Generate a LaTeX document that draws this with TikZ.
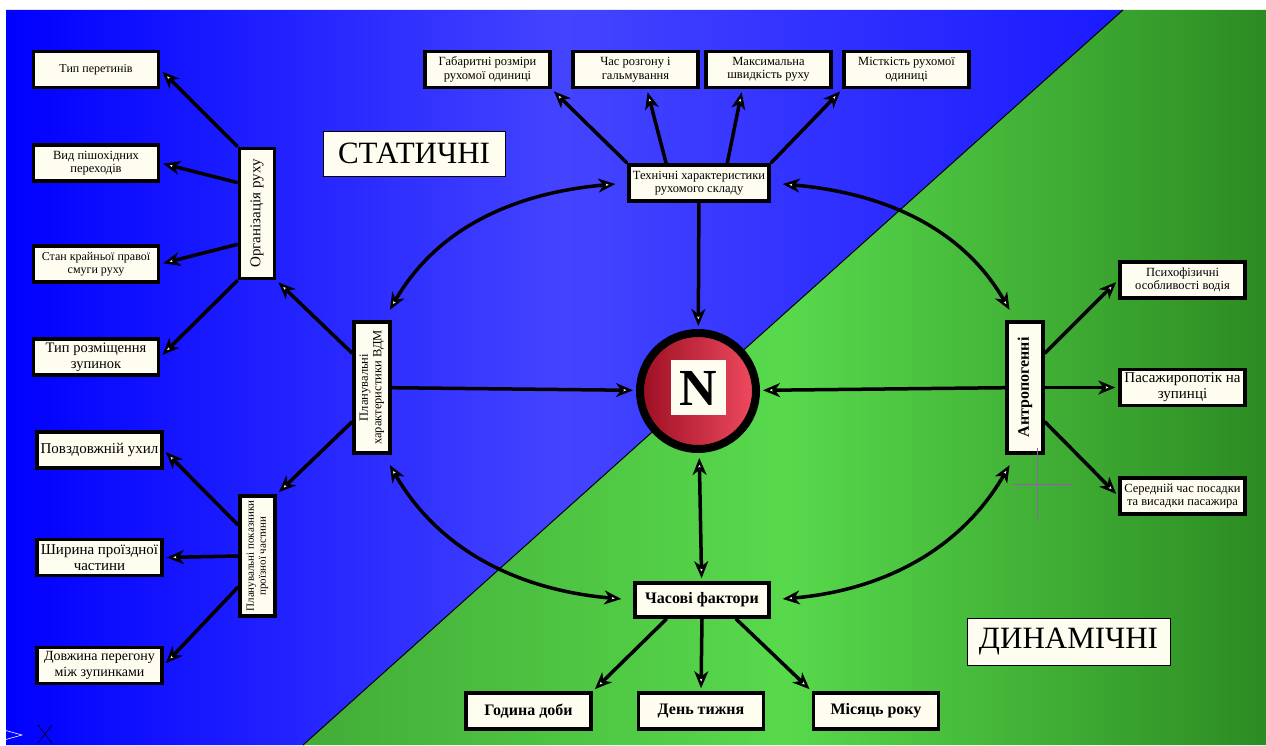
\documentclass[tikz,border=0pt]{standalone}
\usepackage{fontspec}
\setmainfont{Liberation Serif}
\usepackage{graphicx}
\usetikzlibrary{arrows.meta}
\definecolor{cream}{HTML}{FFFDF0}
\definecolor{blueL}{HTML}{0000FF}
\definecolor{blueM}{HTML}{4444FF}
\definecolor{blueR}{HTML}{1A1AFF}
\definecolor{greenL}{HTML}{42AC37}
\definecolor{greenM}{HTML}{58D94C}
\definecolor{greenR}{HTML}{2C8B22}
\definecolor{redL}{HTML}{9C0E22}
\definecolor{redR}{HTML}{F04B60}
\definecolor{cross}{HTML}{A050C0}

\begin{document}
\begin{tikzpicture}[x=1pt, y=1pt,
 >={Stealth[length=17pt, width=14pt, inset=5pt, fill=white, line width=2.4pt]},
 box/.style={draw, line width=3.5pt, fill=cream, align=center, inner sep=1pt,
   minimum width=125pt, minimum height=36pt, font=\fontsize{12.5}{13.5}\selectfont},
 midbox/.style={box, font=\fontsize{14.5}{16}\selectfont},
 fatbox/.style={box, font=\fontsize{16}{18}\selectfont\bfseries},
 vbox/.style={box, minimum width=35pt, minimum height=130pt},
 arr/.style={->, line width=3.5pt, shorten >=3pt},
 dbl/.style={<->, line width=3.5pt, shorten >=12pt, shorten <=12pt},
 sidetag/.style={draw, line width=0.8pt, fill=cream, inner sep=2pt, font=\fontsize{31}{31}\selectfont}]
 \fill[white] (0,0) rectangle (1266,745);
 \useasboundingbox (0,0) rectangle (1266,745);
 \shade[left color=blueL, right color=blueR, middle color=blueM] (6,0) -- (6,735) -- (1123,735) -- (303,0) -- cycle;
 \shade[left color=greenL, right color=greenR, middle color=greenM] (303,0) -- (1123,735) -- (1266,735) -- (1266,0) -- cycle;
 \draw[line width=1pt] (303,0) -- (1123,735);

 \node[box, font=\fontsize{12}{13}\selectfont] (typ) at (96,675.5) {Тип перетинів};
 \node[box] (vyd) at (96,582) {Вид пішохідних\\переходів};
 \node[box, font=\fontsize{12}{13}\selectfont] (stan) at (96,481) {Стан крайньої правої\\смуги руху};
 \node[midbox] (typroz) at (96,388) {Тип розміщення\\зупинок};
 \node[midbox, font=\fontsize{15}{16}\selectfont] (povzd) at (99.5,295) {Повздовжній ухил};
 \node[midbox, font=\fontsize{15}{16}\selectfont] (shyr) at (99.5,187.5) {Ширина проїздної\\частини};
 \node[midbox, font=\fontsize{14}{15.5}\selectfont] (dovzh) at (99.5,79.5) {Довжина перегону\\між зупинками};

 \node[box] (gab) at (487.5,675.5) {Габаритні розміри\\рухомої одиниці};
 \node[box] (rozg) at (635.5,675.5) {Час розгону і\\гальмування};
 \node[box] (maks) at (768.5,675.5) {Максимальна\\швидкість руху};
 \node[box] (mist) at (906.5,675.5) {Місткість рухомої\\одиниці};
 \node[box, minimum width=140pt] (tech) at (699,562) {Технічні характеристики\\рухомого складу};

 \node[vbox, font=\fontsize{15}{16}\selectfont] (org) at (257,531.5) {\rotatebox{90}{Організація руху}};
 \node[vbox, minimum width=36pt, minimum height=131pt] (vdm) at (372,357.5) {\rotatebox{90}{\begin{tabular}{@{}c@{}}Планувальні\\характеристики ВДМ\end{tabular}}};
 \node[vbox, minimum height=120pt, font=\fontsize{11}{12}\selectfont] (pok) at (257.5,189) {\rotatebox{90}{\begin{tabular}{@{}c@{}}Планувальні показники\\проїзної частини\end{tabular}}};
 \node[vbox, minimum width=36pt, minimum height=131pt, font=\fontsize{16}{18}\selectfont\bfseries] (antr) at (1025,357.5) {\rotatebox{90}{Антропогенні}};

 \node[box] (psy) at (1182.5,465) {Психофізичні\\особливості водія};
 \node[midbox, font=\fontsize{15}{16}\selectfont] (pas) at (1182.5,357.5) {Пасажиропотік на\\зупинці};
 \node[box] (ser) at (1182.5,249) {Середній час посадки\\та висадки пасажира};

 \node[fatbox, minimum width=134pt, minimum height=34pt] (time) at (702,145) {Часові фактори};
 \node[fatbox] (hod) at (528.5,34) {Година доби};
 \node[fatbox] (den) at (701,34) {День тижня};
 \node[fatbox] (mis) at (876,34) {Місяць року};

 \node[circle, draw, line width=8pt, left color=redL, right color=redR, minimum size=116pt] (N) at (698,354) {};
 \node[fill=cream, minimum size=55pt, inner sep=0pt, font=\fontsize{52}{52}\selectfont\bfseries] (Nlbl) at (698,357) {N};

 \node[sidetag, minimum width=182pt, minimum height=45pt] (stat) at (414,591.5) {СТАТИЧНІ};
 \node[sidetag, minimum width=203pt, minimum height=47pt] (dyn) at (1068.5,103.5) {ДИНАМІЧНІ};

 \draw[arr] (org.north west) -- (typ.east);
 \draw[arr] (org.122) -- (vyd.east);
 \draw[arr] (org.238) -- (stan.east);
 \draw[arr] (org.south west) -- (typroz.east);
 \draw[arr] (vdm.120) -- (org.south east);
 \draw[arr] (vdm.240) -- (pok.north east);
 \draw[arr] (pok.122) -- (povzd.east);
 \draw[arr] (pok.west) -- (shyr.east);
 \draw[arr] (pok.238) -- (dovzh.east);
 \draw[arr] (tech.north west) -- (gab.south east);
 \draw[arr] (tech.149) -- (rozg.300);
 \draw[arr] (tech.35) -- (maks.217);
 \draw[arr] (tech.north east) -- (mist.south west);
 \draw[arr] (antr.60) -- (psy.west);
 \draw[arr] (antr.east) -- (pas.west);
 \draw[arr] (antr.300) -- (ser.west);
 \draw[arr] (time.208) -- (hod.north east);
 \draw[arr] (time.south) -- (den.north);
 \draw[arr] (time.331) -- (mis.north west);
 \draw[arr] (tech) -- (N);
 \draw[arr] (vdm) -- (N);
 \draw[arr] (antr) -- (N);
 \draw[dbl, shorten <=5pt, shorten >=3pt] (N) -- (time);
 \draw[dbl] (vdm.80) to[out=60, in=185] (tech.west);
 \draw[dbl] (tech.east) to[out=-5, in=120] (antr.98);
 \draw[dbl] (vdm.-80) to[out=-60, in=175] (time.west);
 \draw[dbl] (antr.-98) to[out=-120, in=5] (time.east);

 \draw[cross, line width=0.8pt] (1013,261) -- (1073,261);
 \draw[cross!60!gray, line width=0.8pt] (1037,297) -- (1037,225);
 \draw[line width=0.6pt] (38,2) -- (52,20) (38,20) -- (52,2);
 \draw[white, line width=0.6pt] (4,15) -- (22,10) -- (4,5);
\end{tikzpicture}
\end{document}
